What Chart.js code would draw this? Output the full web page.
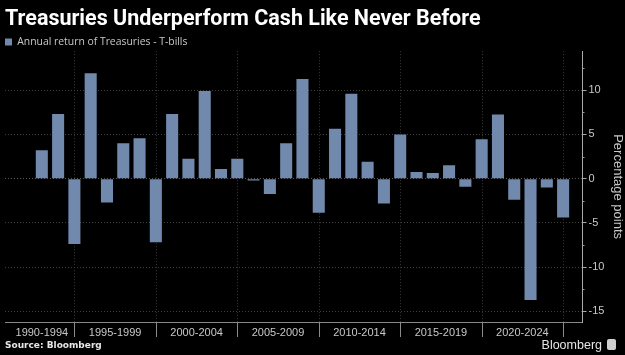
<!DOCTYPE html>
<html>
<head>
<meta charset="utf-8">
<script src="https://cdn.jsdelivr.net/npm/chart.js@4.4.1/dist/chart.umd.min.js"></script>
<style>
  html, body { margin: 0; padding: 0; background: #000; }
  #wrap { position: relative; width: 625px; height: 355px; background: #000; overflow: hidden; }
  #c { position: absolute; left: 0; top: 0; }
  #source { position: absolute; left: 5px; top: 340px; font: bold 9px "DejaVu Sans", sans-serif; color: #e6e6e6; }
  #logo { position: absolute; right: 9px; top: 338px; font: 12.5px "Liberation Sans", Arial, sans-serif; color: #e6e6e6; }
  #logo span { display: inline-block; width: 9px; height: 11px; background: #cfcfcf; border-radius: 2px; margin-left: 5px; vertical-align: -1px; }
</style>
</head>
<body>
<div id="wrap">
  <canvas id="c" width="625" height="355"></canvas>
  <div id="source">Source: Bloomberg</div>
  <div id="logo">Bloomberg<span></span></div>
</div>
<script>
const titleText = 'Treasuries Underperform Cash Like Never Before';
const seriesName = 'Annual return of Treasuries - T-bills';
const years = [1992,1993,1994,1995,1996,1997,1998,1999,2000,2001,2002,2003,2004,2005,2006,2007,2008,2009,2010,2011,2012,2013,2014,2015,2016,2017,2018,2019,2020,2021,2022,2023,2024];
const values = [3.2,7.3,-7.4,11.9,-2.7,4.0,4.55,-7.2,7.3,2.25,9.9,1.1,2.25,-0.2,-1.75,4.0,11.25,-3.85,5.65,9.6,1.9,-2.8,5.0,0.75,0.65,1.5,-0.93,4.45,7.25,-2.4,-13.7,-1.0,-4.4];
const periodLabels = ['1990-1994','1995-1999','2000-2004','2005-2009','2010-2014','2015-2019','2020-2024'];
const periodLabelPos = [1992,1996.5,2001.5,2006.5,2011.5,2016.5,2021.5];
const periodBounds = [1994,1999,2004,2009,2014,2019,2024];
const yTicks = [-15,-10,-5,0,5,10];
const yMinorTicks = [-12.5,-7.5,-2.5,2.5,7.5,12.5];

const barColor = '#7189ad';
const textColor = '#c8c8c8';

// tighten the legend box so the plot starts right under it
const legendTighten = {
  id: 'legendTighten',
  beforeLayout(chart) {
    const lg = chart.legend;
    if (lg && !lg._tight) {
      const fit = lg.fit;
      lg.fit = function () { fit.call(this); this.height = Math.max(0, this.height - 6); };
      lg._tight = true;
    }
  }
};

// period separators (dotted grid + tick marks), period labels and y minor ticks
const periodAxis = {
  id: 'periodAxis',
  beforeDatasetsDraw(chart) {
    const x = chart.scales.x;
    const area = chart.chartArea;
    const ctx = chart.ctx;
    ctx.save();
    ctx.strokeStyle = '#3a3a3a';
    ctx.lineWidth = 1;
    ctx.setLineDash([1, 2]);
    periodBounds.forEach(v => {
      const px = Math.round(x.getPixelForValue(v)) + 0.5;
      ctx.beginPath();
      ctx.moveTo(px, area.top);
      ctx.lineTo(px, area.bottom);
      ctx.stroke();
    });
    ctx.restore();
  },
  afterDraw(chart) {
    const x = chart.scales.x;
    const y = chart.scales.y;
    const area = chart.chartArea;
    const ctx = chart.ctx;
    ctx.save();
    ctx.strokeStyle = '#8a8a8a';
    ctx.lineWidth = 1;
    periodBounds.forEach(v => {
      const px = Math.round(x.getPixelForValue(v)) + 0.5;
      ctx.beginPath();
      ctx.moveTo(px, area.bottom);
      ctx.lineTo(px, area.bottom + 15);
      ctx.stroke();
    });
    ctx.fillStyle = textColor;
    ctx.font = '11px "Liberation Sans", Arial, sans-serif';
    ctx.textAlign = 'center';
    ctx.textBaseline = 'middle';
    periodLabels.forEach((lab, i) => {
      ctx.fillText(lab, x.getPixelForValue(periodLabelPos[i]), area.bottom + 10.5);
    });
    ctx.strokeStyle = '#9a9a9a';
    yMinorTicks.forEach(v => {
      const py = Math.round(y.getPixelForValue(v)) + 0.5;
      ctx.beginPath();
      ctx.moveTo(y.left, py);
      ctx.lineTo(y.left + 2, py);
      ctx.stroke();
    });
    ctx.restore();
  }
};

new Chart(document.getElementById('c'), {
  type: 'bar',
  data: {
    datasets: [{
      label: seriesName,
      data: years.map((yr, i) => ({ x: yr, y: values[i] })),
      backgroundColor: barColor,
      borderWidth: 0,
      barPercentage: 0.74,
      categoryPercentage: 1
    }]
  },
  options: {
    responsive: false,
    animation: false,
    devicePixelRatio: 1,
    layout: { padding: { left: 5, right: 0, top: 0, bottom: 33 } },
    plugins: {
      title: {
        display: true,
        text: titleText,
        align: 'start',
        color: '#ffffff',
        font: { family: 'Roboto', weight: 'bold', size: 21.5 },
        padding: { top: 7, bottom: 4 }
      },
      legend: {
        display: true,
        align: 'start',
        labels: {
          color: textColor,
          font: { family: 'Open Sans', size: 10.4 },
          boxWidth: 7,
          boxHeight: 7,
          padding: 0
        }
      },
      tooltip: { enabled: false }
    },
    scales: {
      x: {
        type: 'linear',
        min: 1989.74,
        max: 2025.19,
        offset: false,
        ticks: { display: false },
        grid: { display: false, drawTicks: false },
        border: { display: true, color: '#888' }
      },
      y: {
        position: 'right',
        min: -16.2,
        max: 14.4,
        afterBuildTicks(scale) {
          scale.ticks = yTicks.map(v => ({ value: v }));
        },
        ticks: {
          color: textColor,
          padding: 2,
          font: { family: 'Liberation Sans', size: 11 }
        },
        grid: {
          color: ctx => ctx.tick && ctx.tick.value === 0 ? '#5a5a5a' : '#3e3e3e',
          tickColor: '#aaa',
          tickLength: 4
        },
        border: { display: true, color: '#aaa', dash: [1, 2] },
        title: {
          display: true,
          text: 'Percentage points',
          color: textColor,
          font: { family: 'Liberation Sans', size: 13 },
          padding: { top: 0, bottom: 3 }
        }
      }
    }
  },
  plugins: [legendTighten, periodAxis]
});
</script>
</body>
</html>
